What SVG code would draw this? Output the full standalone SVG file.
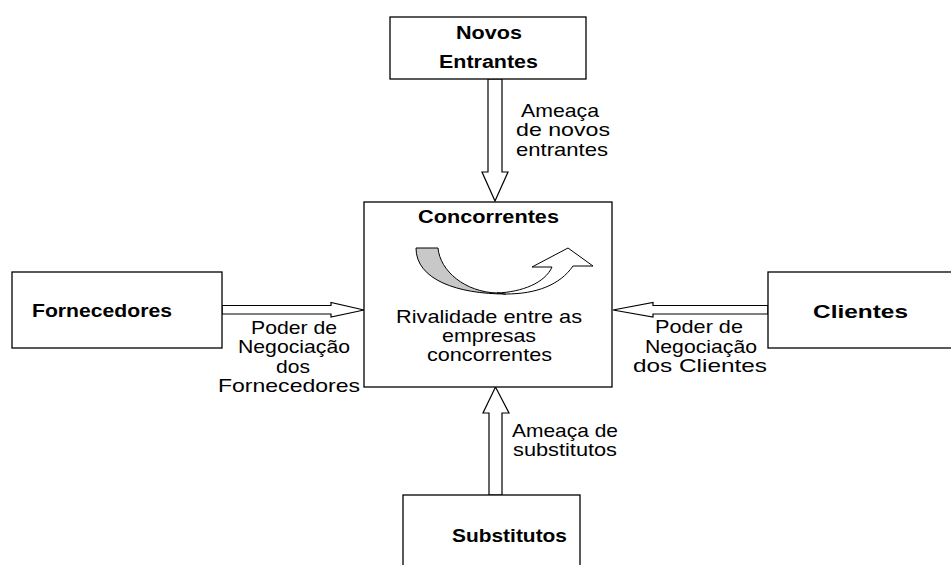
<svg xmlns="http://www.w3.org/2000/svg" width="951" height="565" viewBox="0 0 951 565">
<style>
.box{fill:#fff;stroke:#000;stroke-width:1.3}
.arr{fill:#fff;stroke:#000;stroke-width:1.2;stroke-linejoin:miter}
.t{font-family:"Liberation Sans",Arial,sans-serif;font-size:19px;fill:#000}
.b{font-family:"Liberation Sans",Arial,sans-serif;font-size:18px;font-weight:bold;fill:#000}
</style>
<rect width="951" height="565" fill="#fff"/>
<g id="connectors">
<polygon class="arr" points="488,79 502,79 502,172 508,172 495,201 482,172 488,172"/>
<polygon class="arr" points="222,305.5 331,305.5 331,302.5 364,310 331,317 331,314 222,314"/>
<polygon class="arr" points="768,305.5 653,305.5 653,302.5 613,310 653,317 653,314 768,314"/>
<polygon class="arr" points="489,495 489,413 483,413 495.5,387 509,413 502,413 502,495"/>
<g id="label-novos" class="t">
<text x="521" y="117" textLength="78" lengthAdjust="spacingAndGlyphs">Ameaça</text>
<text x="516" y="136" textLength="94" lengthAdjust="spacingAndGlyphs">de novos</text>
<text x="516" y="156" textLength="92" lengthAdjust="spacingAndGlyphs">entrantes</text>
</g>
<g id="label-forn" class="t">
<text x="251" y="334" textLength="86" lengthAdjust="spacingAndGlyphs">Poder de</text>
<text x="238" y="353" textLength="112" lengthAdjust="spacingAndGlyphs">Negociação</text>
<text x="276" y="373" textLength="34" lengthAdjust="spacingAndGlyphs">dos</text>
<text x="218" y="392" textLength="142" lengthAdjust="spacingAndGlyphs">Fornecedores</text>
</g>
<g id="label-cli" class="t">
<text x="655" y="333" textLength="88" lengthAdjust="spacingAndGlyphs">Poder de</text>
<text x="645" y="353" textLength="112" lengthAdjust="spacingAndGlyphs">Negociação</text>
<text x="633" y="372" textLength="134" lengthAdjust="spacingAndGlyphs">dos Clientes</text>
</g>
<g id="label-subs" class="t">
<text x="512" y="437" textLength="106" lengthAdjust="spacingAndGlyphs">Ameaça de</text>
<text x="513" y="456" textLength="104" lengthAdjust="spacingAndGlyphs">substitutos</text>
</g>
</g>
<g id="novos-entrantes">
<rect class="box" x="390" y="17" width="196" height="62"/>
<text class="b" x="456" y="39" textLength="66" lengthAdjust="spacingAndGlyphs">Novos</text>
<text class="b" x="439" y="68" textLength="99" lengthAdjust="spacingAndGlyphs">Entrantes</text>
</g>
<g id="concorrentes">
<rect class="box" x="364" y="202" width="248" height="185"/>
<text class="b" x="418" y="223" textLength="141" lengthAdjust="spacingAndGlyphs">Concorrentes</text>
<path d="M416,248 L438,248 C440,271 465,292 497,293 L506,294 C458,294 416,280 416,248 Z" fill="#c8c8c8" stroke="#000" stroke-width="1"/>
<path d="M497,293 C522,292 545,283 552,267 L532,267 L568,248 L593,266 L573,266 C560,285 536,294 506,294 Z" fill="#fff" stroke="#000" stroke-width="1"/>
<text class="t" x="396" y="323" textLength="186" lengthAdjust="spacingAndGlyphs">Rivalidade entre as</text>
<text class="t" x="442" y="342" textLength="94" lengthAdjust="spacingAndGlyphs">empresas</text>
<text class="t" x="427" y="361" textLength="125" lengthAdjust="spacingAndGlyphs">concorrentes</text>
</g>
<g id="fornecedores">
<rect class="box" x="12" y="272" width="210" height="76"/>
<text class="b" x="32" y="317" textLength="140" lengthAdjust="spacingAndGlyphs">Fornecedores</text>
</g>
<g id="clientes">
<rect class="box" x="768" y="272" width="190" height="76"/>
<text class="b" x="813" y="318" textLength="95" lengthAdjust="spacingAndGlyphs">Clientes</text>
</g>
<g id="substitutos">
<rect class="box" x="403" y="495" width="177" height="80"/>
<text class="b" x="452" y="542" textLength="115" lengthAdjust="spacingAndGlyphs">Substitutos</text>
</g>
</svg>
